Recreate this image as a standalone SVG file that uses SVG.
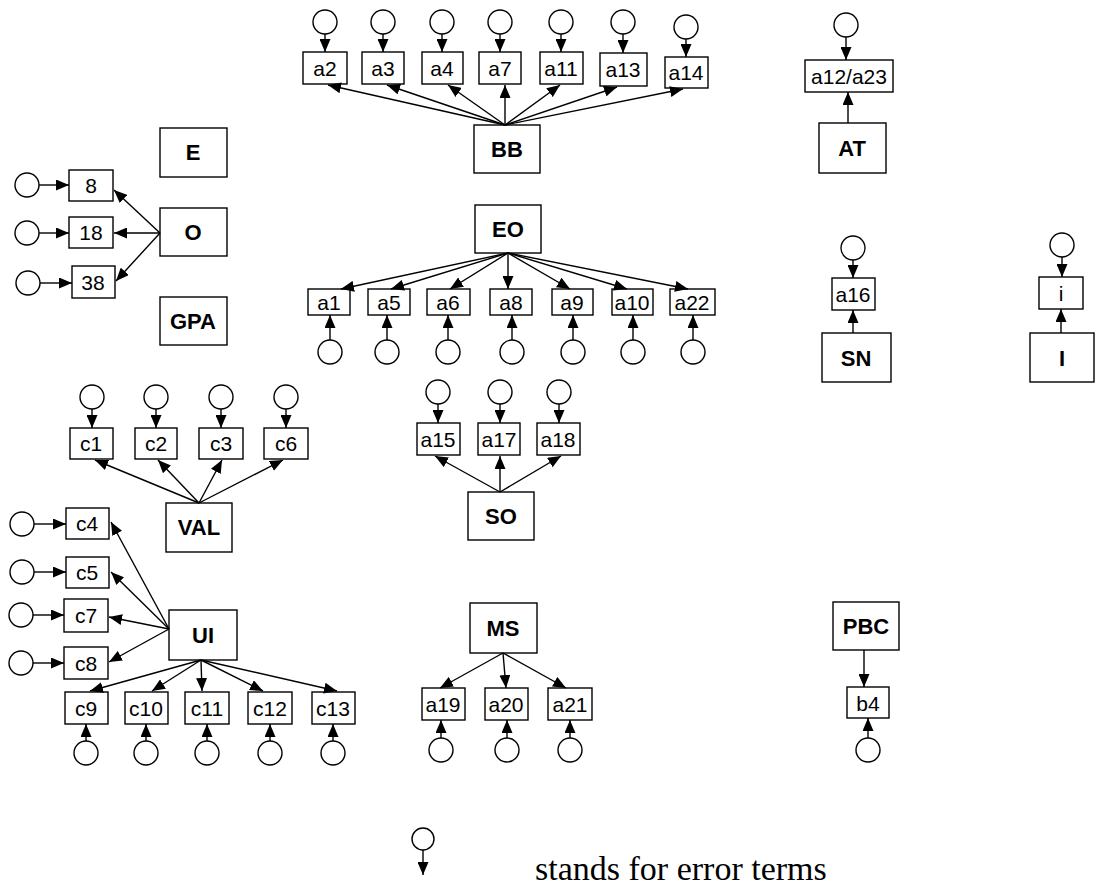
<svg xmlns="http://www.w3.org/2000/svg" width="1096" height="888" viewBox="0 0 1096 888">
<defs>
<marker id="ah" viewBox="0 0 13 11" refX="13" refY="5.5" markerWidth="13" markerHeight="11" orient="auto" markerUnits="userSpaceOnUse"><path d="M0,0 L13,5.5 L0,11 z" fill="#000"/></marker>
</defs>
<style>
rect{fill:#fff;stroke:#000;stroke-width:1.4}
circle{fill:#fff;stroke:#000;stroke-width:1.4}
line{stroke:#000;stroke-width:1.4;marker-end:url(#ah)}
text{font-family:"Liberation Sans",Arial,sans-serif;font-size:21px;text-anchor:middle;dominant-baseline:central}
.lat text{font-weight:bold;font-size:22px}
.leg{font-family:"Liberation Serif","Times New Roman",serif;font-size:34px;text-anchor:start;dominant-baseline:auto}
</style>
<rect x="0" y="0" width="1096" height="888" style="stroke:none"/>

<g id="nodes">
<g id="a2"><circle cx="325" cy="22" r="12"/><rect x="303" y="52" width="44" height="32"/><text x="325" y="68">a2</text></g>
<g id="a3"><circle cx="383" cy="22" r="12"/><rect x="362" y="52" width="42" height="32"/><text x="383" y="68">a3</text></g>
<g id="a4"><circle cx="442" cy="22" r="12"/><rect x="422" y="52" width="41" height="32"/><text x="442" y="68">a4</text></g>
<g id="a7"><circle cx="500" cy="22" r="12"/><rect x="479" y="52" width="42" height="32"/><text x="500" y="68">a7</text></g>
<g id="a11"><circle cx="561" cy="22" r="12"/><rect x="540" y="52" width="43" height="32"/><text x="561" y="68">a11</text></g>
<g id="a13"><circle cx="623" cy="22" r="12"/><rect x="600" y="53" width="47" height="33"/><text x="623" y="69">a13</text></g>
<g id="a14"><circle cx="686" cy="27" r="12"/><rect x="665" y="57" width="43" height="31"/><text x="686" y="72">a14</text></g>
<g id="BB" class="lat"><rect x="474" y="125" width="66" height="48"/><text x="507" y="149">BB</text></g>

<g id="E" class="lat"><rect x="160" y="128" width="67" height="49"/><text x="193" y="152">E</text></g>
<g id="O" class="lat"><rect x="160" y="208" width="67" height="48"/><text x="193" y="232">O</text></g>
<g id="GPA" class="lat"><rect x="160" y="297" width="67" height="48"/><text x="193" y="321">GPA</text></g>
<g id="i8"><circle cx="27" cy="185" r="12"/><rect x="69" y="170" width="44" height="31"/><text x="91" y="185">8</text></g>
<g id="i18"><circle cx="27" cy="233" r="12"/><rect x="69" y="217" width="44" height="31"/><text x="91" y="232">18</text></g>
<g id="i38"><circle cx="28" cy="283" r="12"/><rect x="72" y="266" width="43" height="32"/><text x="93" y="282">38</text></g>

<g id="EO" class="lat"><rect x="475" y="205" width="66" height="48"/><text x="508" y="229">EO</text></g>
<g id="a1"><circle cx="330" cy="352" r="12"/><rect x="308" y="289" width="42" height="26"/><text x="329" y="302">a1</text></g>
<g id="a5"><circle cx="387" cy="352" r="12"/><rect x="368" y="289" width="42" height="26"/><text x="389" y="302">a5</text></g>
<g id="a6"><circle cx="448" cy="352" r="12"/><rect x="427" y="289" width="43" height="26"/><text x="448" y="302">a6</text></g>
<g id="a8"><circle cx="512" cy="352" r="12"/><rect x="490" y="289" width="42" height="26"/><text x="511" y="302">a8</text></g>
<g id="a9"><circle cx="573" cy="352" r="12"/><rect x="552" y="289" width="41" height="26"/><text x="572" y="302">a9</text></g>
<g id="a10"><circle cx="633" cy="352" r="12"/><rect x="612" y="289" width="41" height="26"/><text x="632" y="302">a10</text></g>
<g id="a22"><circle cx="693" cy="352" r="12"/><rect x="670" y="289" width="45" height="26"/><text x="692" y="302">a22</text></g>

<g id="VAL" class="lat"><rect x="166" y="503" width="66" height="49"/><text x="199" y="527">VAL</text></g>
<g id="c1"><circle cx="92" cy="397" r="12"/><rect x="70" y="428" width="43" height="31"/><text x="91" y="443">c1</text></g>
<g id="c2"><circle cx="156" cy="397" r="12"/><rect x="135" y="428" width="42" height="31"/><text x="156" y="443">c2</text></g>
<g id="c3"><circle cx="221" cy="397" r="12"/><rect x="199" y="428" width="44" height="31"/><text x="221" y="443">c3</text></g>
<g id="c6"><circle cx="286" cy="397" r="12"/><rect x="264" y="428" width="44" height="31"/><text x="286" y="443">c6</text></g>

<g id="UI" class="lat"><rect x="169" y="610" width="68" height="50"/><text x="203" y="635">UI</text></g>
<g id="c4"><circle cx="22" cy="524" r="12"/><rect x="66" y="508" width="43" height="31"/><text x="87" y="523">c4</text></g>
<g id="c5"><circle cx="22" cy="572" r="12"/><rect x="66" y="557" width="43" height="31"/><text x="87" y="572">c5</text></g>
<g id="c7"><circle cx="21" cy="615" r="12"/><rect x="64" y="599" width="44" height="33"/><text x="86" y="615">c7</text></g>
<g id="c8"><circle cx="21" cy="663" r="12"/><rect x="64" y="647" width="44" height="32"/><text x="86" y="663">c8</text></g>
<g id="c9"><circle cx="86" cy="753" r="12"/><rect x="65" y="692" width="43" height="32"/><text x="86" y="708">c9</text></g>
<g id="c10"><circle cx="146" cy="753" r="12"/><rect x="125" y="692" width="43" height="32"/><text x="146" y="708">c10</text></g>
<g id="c11"><circle cx="207" cy="753" r="12"/><rect x="185" y="692" width="44" height="32"/><text x="207" y="708">c11</text></g>
<g id="c12"><circle cx="270" cy="753" r="12"/><rect x="248" y="692" width="44" height="32"/><text x="270" y="708">c12</text></g>
<g id="c13"><circle cx="333" cy="753" r="12"/><rect x="312" y="692" width="43" height="32"/><text x="333" y="708">c13</text></g>

<g id="SO" class="lat"><rect x="468" y="492" width="66" height="48"/><text x="501" y="516">SO</text></g>
<g id="a15"><circle cx="438" cy="392" r="12"/><rect x="417" y="423" width="43" height="32"/><text x="438" y="439">a15</text></g>
<g id="a17"><circle cx="500" cy="392" r="12"/><rect x="478" y="423" width="42" height="32"/><text x="499" y="439">a17</text></g>
<g id="a18"><circle cx="559" cy="392" r="12"/><rect x="537" y="423" width="43" height="32"/><text x="558" y="439">a18</text></g>

<g id="MS" class="lat"><rect x="470" y="603" width="67" height="50"/><text x="503" y="628">MS</text></g>
<g id="a19"><circle cx="441" cy="750" r="12"/><rect x="422" y="688" width="43" height="32"/><text x="443" y="704">a19</text></g>
<g id="a20"><circle cx="507" cy="750" r="12"/><rect x="485" y="688" width="43" height="32"/><text x="506" y="704">a20</text></g>
<g id="a21"><circle cx="570" cy="750" r="12"/><rect x="548" y="688" width="44" height="32"/><text x="570" y="704">a21</text></g>

<g id="a12a23"><circle cx="846" cy="25" r="12"/><rect x="805" y="60" width="88" height="32"/><text x="849" y="76">a12/a23</text></g>
<g id="AT" class="lat"><rect x="819" y="123" width="67" height="50"/><text x="852" y="148">AT</text></g>
<g id="a16"><circle cx="853" cy="248" r="12"/><rect x="832" y="278" width="43" height="32"/><text x="853" y="294">a16</text></g>
<g id="SN" class="lat"><rect x="822" y="333" width="69" height="49"/><text x="856" y="358">SN</text></g>
<g id="i"><circle cx="1062" cy="245" r="12"/><rect x="1039" y="277" width="44" height="32"/><text x="1061" y="293">i</text></g>
<g id="I" class="lat"><rect x="1030" y="333" width="64" height="49"/><text x="1062" y="358">I</text></g>
<g id="PBC" class="lat"><rect x="833" y="602" width="66" height="48"/><text x="866" y="626">PBC</text></g>
<g id="b4"><circle cx="868" cy="750" r="12"/><rect x="847" y="687" width="42" height="31"/><text x="868" y="703">b4</text></g>

<g id="legend"><circle cx="423" cy="839" r="11"/><line x1="423" y1="850" x2="423" y2="875"/><text class="leg" x="535" y="880">stands for error terms</text></g>
</g>

<g id="connectors">
<line x1="325" y1="34" x2="325" y2="52"/>
<line x1="383" y1="34" x2="383" y2="52"/>
<line x1="442" y1="34" x2="442" y2="52"/>
<line x1="500" y1="34" x2="500" y2="52"/>
<line x1="561" y1="34" x2="561" y2="52"/>
<line x1="623" y1="34" x2="623" y2="53"/>
<line x1="686" y1="39" x2="686" y2="57"/>
<line x1="505" y1="125" x2="328" y2="85"/>
<line x1="505" y1="125" x2="387" y2="85"/>
<line x1="505" y1="125" x2="448" y2="85"/>
<line x1="505" y1="125" x2="505" y2="85"/>
<line x1="505" y1="125" x2="560" y2="85"/>
<line x1="505" y1="125" x2="617" y2="87"/>
<line x1="505" y1="125" x2="683" y2="89"/>
<line x1="39" y1="185" x2="69" y2="185"/>
<line x1="39" y1="233" x2="69" y2="233"/>
<line x1="40" y1="283" x2="72" y2="283"/>
<line x1="160" y1="233" x2="114" y2="190"/>
<line x1="160" y1="233" x2="114" y2="233"/>
<line x1="160" y1="233" x2="116" y2="281"/>
<line x1="508" y1="253" x2="341" y2="289"/>
<line x1="508" y1="253" x2="391" y2="289"/>
<line x1="508" y1="253" x2="450" y2="289"/>
<line x1="508" y1="253" x2="508" y2="289"/>
<line x1="508" y1="253" x2="570" y2="289"/>
<line x1="508" y1="253" x2="627" y2="289"/>
<line x1="508" y1="253" x2="688" y2="289"/>
<line x1="330" y1="340" x2="330" y2="315"/>
<line x1="387" y1="340" x2="387" y2="315"/>
<line x1="448" y1="340" x2="448" y2="315"/>
<line x1="512" y1="340" x2="512" y2="315"/>
<line x1="573" y1="340" x2="573" y2="315"/>
<line x1="633" y1="340" x2="633" y2="315"/>
<line x1="693" y1="340" x2="693" y2="315"/>
<line x1="92" y1="409" x2="92" y2="428"/>
<line x1="156" y1="409" x2="156" y2="428"/>
<line x1="221" y1="409" x2="221" y2="428"/>
<line x1="286" y1="409" x2="286" y2="428"/>
<line x1="199" y1="503" x2="95" y2="460"/>
<line x1="199" y1="503" x2="158" y2="460"/>
<line x1="199" y1="503" x2="222" y2="460"/>
<line x1="199" y1="503" x2="283" y2="460"/>
<line x1="34" y1="524" x2="66" y2="524"/>
<line x1="34" y1="572" x2="66" y2="572"/>
<line x1="33" y1="615" x2="64" y2="615"/>
<line x1="33" y1="663" x2="64" y2="663"/>
<line x1="169" y1="629" x2="111" y2="522"/>
<line x1="169" y1="629" x2="111" y2="572"/>
<line x1="169" y1="629" x2="109" y2="617"/>
<line x1="169" y1="629" x2="109" y2="662"/>
<line x1="201" y1="660" x2="90" y2="691"/>
<line x1="201" y1="660" x2="152" y2="691"/>
<line x1="201" y1="660" x2="202" y2="691"/>
<line x1="201" y1="660" x2="263" y2="691"/>
<line x1="201" y1="660" x2="337" y2="691"/>
<line x1="86" y1="741" x2="86" y2="724"/>
<line x1="146" y1="741" x2="146" y2="724"/>
<line x1="207" y1="741" x2="207" y2="724"/>
<line x1="270" y1="741" x2="270" y2="724"/>
<line x1="333" y1="741" x2="333" y2="724"/>
<line x1="438" y1="404" x2="438" y2="423"/>
<line x1="500" y1="404" x2="500" y2="423"/>
<line x1="559" y1="404" x2="559" y2="423"/>
<line x1="500" y1="492" x2="435" y2="456"/>
<line x1="500" y1="492" x2="500" y2="456"/>
<line x1="500" y1="492" x2="561" y2="456"/>
<line x1="503" y1="653" x2="440" y2="688"/>
<line x1="503" y1="653" x2="506" y2="688"/>
<line x1="503" y1="653" x2="566" y2="688"/>
<line x1="441" y1="738" x2="441" y2="720"/>
<line x1="507" y1="738" x2="507" y2="720"/>
<line x1="570" y1="738" x2="570" y2="720"/>
<line x1="846" y1="37" x2="846" y2="60"/>
<line x1="848" y1="123" x2="848" y2="92"/>
<line x1="853" y1="260" x2="853" y2="278"/>
<line x1="853" y1="333" x2="853" y2="310"/>
<line x1="1062" y1="257" x2="1062" y2="277"/>
<line x1="1061" y1="333" x2="1061" y2="309"/>
<line x1="864" y1="650" x2="864" y2="687"/>
<line x1="868" y1="738" x2="868" y2="718"/>
</g>
</svg>
